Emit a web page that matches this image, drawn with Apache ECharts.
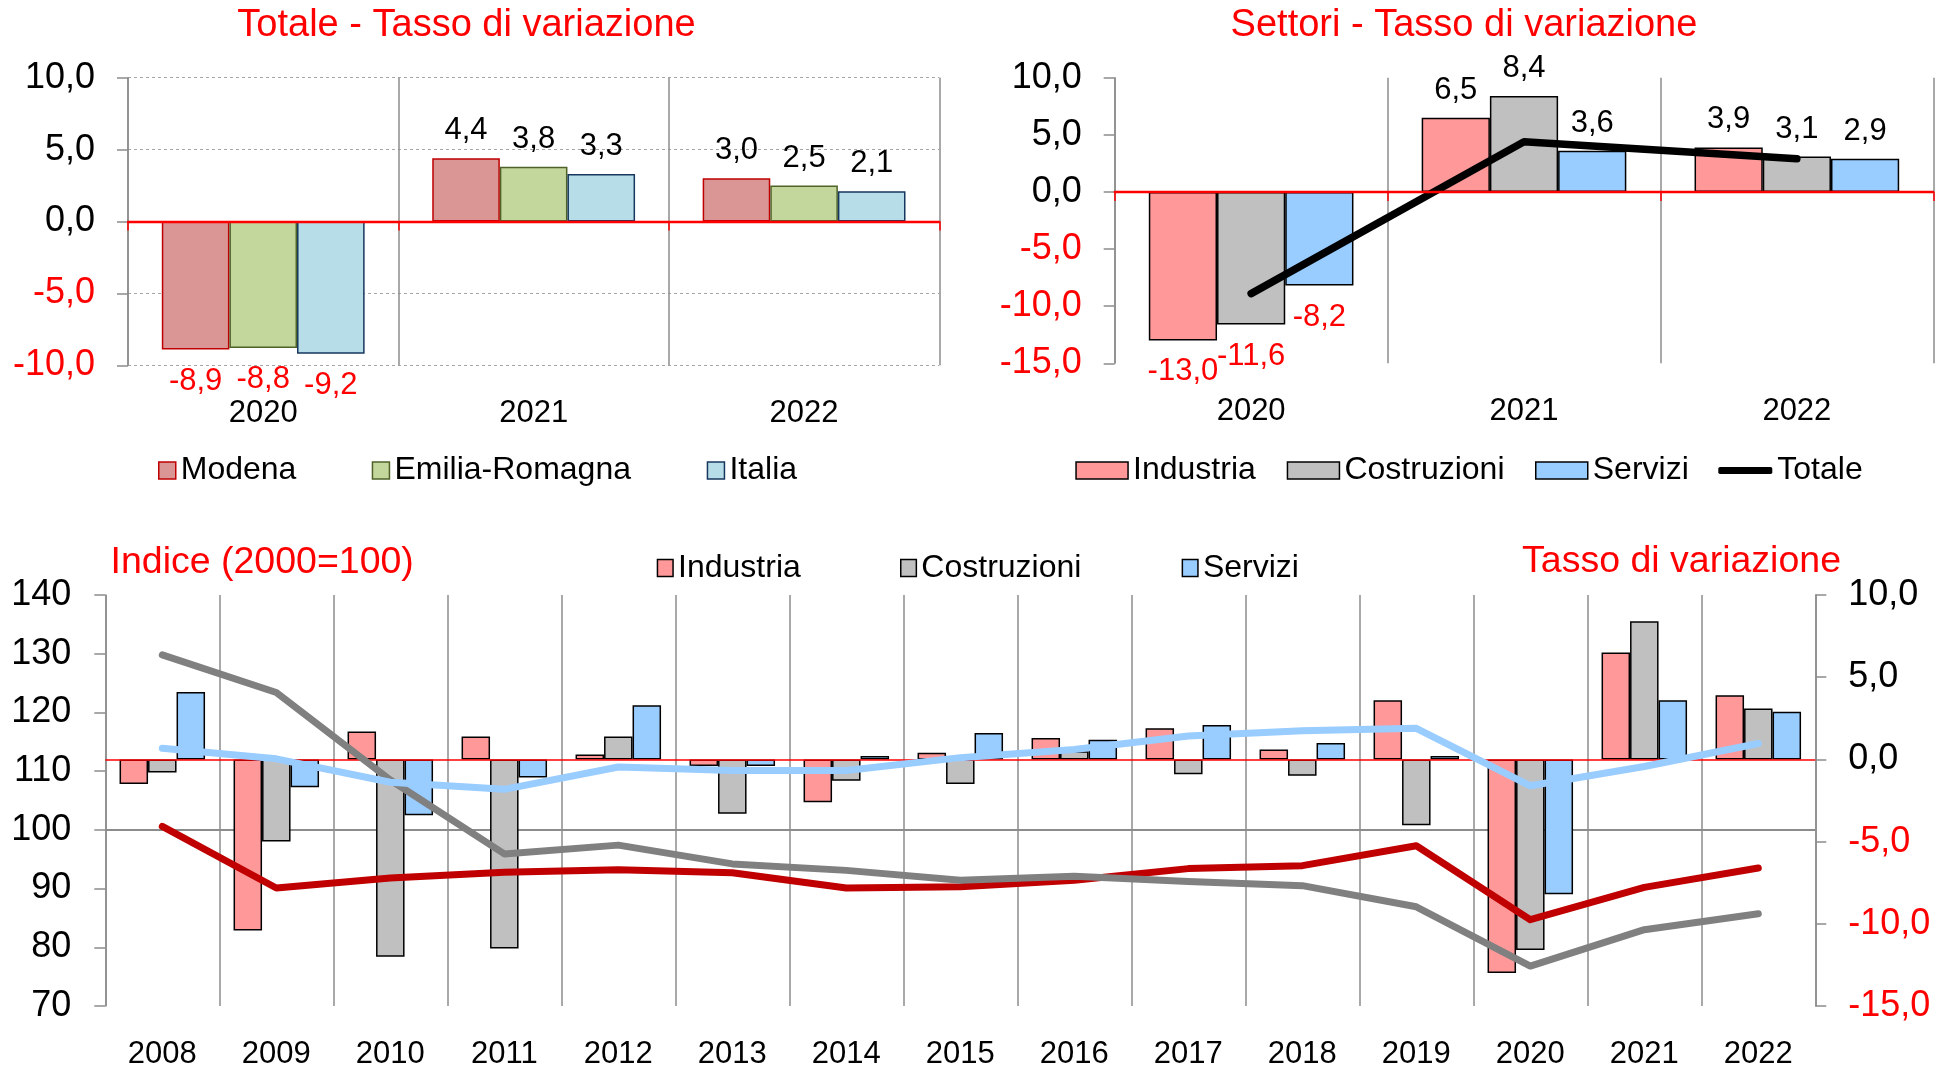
<!DOCTYPE html>
<html>
<head>
<meta charset="utf-8">
<script src="https://cdn.jsdelivr.net/npm/echarts@6/dist/echarts.min.js"></script>
<style>
  html, body { margin: 0; padding: 0; background: #fff; }
  #chart { width: 1946px; height: 1070px; }
</style>
</head>
<body>
<div id="chart"></div>
<script>
const FONT = '"Liberation Sans", Arial, sans-serif';
const RED = '#ff0000';
const GRID_GRAY = '#8c8c8c';

// top left: totale, tasso di variazione
const yearsTop = ['2020', '2021', '2022'];
const modena = [-8.9, 4.4, 3.0];
const emiliaRomagna = [-8.8, 3.8, 2.5];
const italia = [-9.2, 3.3, 2.1];

// top right: settori, tasso di variazione
const settIndustria = [-13.0, 6.5, 3.9];
const settCostruzioni = [-11.6, 8.4, 3.1];
const settServizi = [-8.2, 3.6, 2.9];
const settTotale = [-8.9, 4.4, 2.9];

// bottom: serie storica
const years = ['2008', '2009', '2010', '2011', '2012', '2013', '2014', '2015',
  '2016', '2017', '2018', '2019', '2020', '2021', '2022'];
const varIndustria = [-1.5, -10.4, 1.7, 1.4, 0.3, -0.4, -2.6, 0.4, 1.3, 1.9, 0.6, 3.6, -13.0, 6.5, 3.9];
const varCostruzioni = [-0.8, -5.0, -12.0, -11.5, 1.4, -3.3, -1.3, -1.5, 0.5, -0.9, -1.0, -4.0, -11.6, 8.4, 3.1];
const varServizi = [4.1, -1.7, -3.4, -1.1, 3.3, -0.4, 0.2, 1.6, 1.2, 2.1, 1.0, 0.2, -8.2, 3.6, 2.9];
const idxIndustria = [100.6, 90.1, 91.8, 92.8, 93.2, 92.7, 90.1, 90.3, 91.4, 93.4, 93.9, 97.3, 84.7, 90.2, 93.5];
const idxCostruzioni = [129.8, 123.4, 108.5, 95.9, 97.4, 94.2, 93.1, 91.4, 92.1, 91.2, 90.5, 86.9, 76.8, 83.0, 85.7];
const idxServizi = [113.9, 112.1, 108.1, 106.9, 110.7, 110.1, 110.1, 112.3, 113.7, 116.0, 116.9, 117.3, 107.5, 110.8, 114.7];

const fmt = v => Number(v).toFixed(1).replace('.', ',');
const signColor = v => Number(v) < 0 ? RED : '#000';

function labelled(values) {
  return values.map(v => ({
    value: v,
    label: { position: v < 0 ? 'bottom' : 'top', distance: v < 0 ? 16 : 12, color: signColor(v) }
  }));
}

function topBar(name, values, color, border, xIdx, yIdx) {
  return {
    name, type: 'bar', xAxisIndex: xIdx, yAxisIndex: yIdx,
    data: labelled(values),
    barGap: '0%', barCategoryGap: '25%',
    itemStyle: { color, borderColor: border, borderWidth: 1.5 },
    label: { show: true, fontSize: 31, fontFamily: FONT, formatter: p => fmt(p.value) }
  };
}

function bottomBar(name, values, color) {
  return {
    name, type: 'bar', xAxisIndex: 4, yAxisIndex: 3, data: values,
    barGap: '0%', barCategoryGap: '25%',
    itemStyle: { color, borderColor: '#000', borderWidth: 1.5 }
  };
}

function indexLine(name, values, color) {
  return {
    name, type: 'line', xAxisIndex: 4, yAxisIndex: 2, data: values,
    symbol: 'none', z: 4,
    lineStyle: { color, width: 7, cap: 'round', join: 'round' }
  };
}

function labelAxis(gridIndex, data) {
  return {
    gridIndex, type: 'category', data, position: 'bottom',
    axisLine: { show: false, onZero: false }, axisTick: { show: false },
    axisLabel: { fontSize: 31, fontFamily: FONT, color: '#000', margin: 33, interval: 0 },
    splitLine: { show: true, lineStyle: { color: GRID_GRAY, width: 1.5 } }
  };
}

function zeroAxis(gridIndex, data) {
  return {
    gridIndex, type: 'category', data, position: 'bottom', z: 10,
    axisLine: { show: true, onZero: true, lineStyle: { color: RED, width: 2.3 } },
    axisTick: { show: true, length: 9, lineStyle: { color: RED, width: 1.5 } },
    axisLabel: { show: false }, splitLine: { show: false }
  };
}

function valueAxis(gridIndex, min, max, interval, extra) {
  return Object.assign({
    gridIndex, type: 'value', min, max, interval,
    axisLine: { show: true, lineStyle: { color: GRID_GRAY, width: 1.5 } },
    axisTick: { show: true, length: 11, lineStyle: { color: GRID_GRAY, width: 1.5 } },
    axisLabel: { fontSize: 36, fontFamily: FONT, margin: 33, formatter: fmt, color: signColor },
    splitLine: { show: false }
  }, extra);
}

function legendAt(name, left, top, w, h, style, icon) {
  return {
    data: [{ name, icon: icon || 'rect', itemStyle: style }],
    left, top, itemWidth: w, itemHeight: h, padding: 0, selectedMode: false,
    textStyle: { fontSize: 32, fontFamily: FONT, color: '#000', lineHeight: 32 }
  };
}

function titleText(text, x, y, align, size) {
  return {
    type: 'text', x, y, silent: true,
    style: { text, fill: RED, fontSize: size, fontFamily: FONT, align, verticalAlign: 'middle' }
  };
}

const chart = echarts.init(document.getElementById('chart'));
chart.setOption({
  animation: false,
  backgroundColor: '#fff',
  textStyle: { fontFamily: FONT },
  grid: [
    { left: 128, top: 77.7, width: 811.3, height: 287.6 },
    { left: 1114.7, top: 77.7, width: 818.6, height: 285.6 },
    { left: 105.3, top: 595, width: 1710, height: 412.7 }
  ],
  xAxis: [
    labelAxis(0, yearsTop),
    zeroAxis(0, yearsTop),
    labelAxis(1, yearsTop),
    zeroAxis(1, yearsTop),
    labelAxis(2, years)
  ],
  yAxis: [
    valueAxis(0, -10, 10, 5, {
      splitLine: { show: true, lineStyle: { color: '#a6a6a6', width: 1, type: [3, 3] } }
    }),
    valueAxis(1, -15, 10, 5),
    valueAxis(2, 70, 140, 10, {
      position: 'left',
      axisLabel: { fontSize: 36, fontFamily: FONT, margin: 34, color: '#000' }
    }),
    valueAxis(2, -15, 10, 5, { position: 'right' })
  ],
  legend: [
    legendAt('Modena', 158, 454.5, 17, 17, { color: '#d99694', borderColor: '#c00000', borderWidth: 1.5 }),
    legendAt('Emilia-Romagna', 371.7, 454.5, 17, 17, { color: '#c3d69b', borderColor: '#4f6228', borderWidth: 1.5 }),
    legendAt('Italia', 706.7, 454.5, 17, 17, { color: '#b7dee8', borderColor: '#17375e', borderWidth: 1.5 }),
    legendAt('Industria', 1075.3, 454.5, 52, 17, { color: '#ff9999', borderColor: '#000', borderWidth: 1.5 }),
    legendAt('Costruzioni', 1286.7, 454.5, 52, 17, { color: '#c0c0c0', borderColor: '#000', borderWidth: 1.5 }),
    legendAt('Servizi', 1535, 454.5, 52, 17, { color: '#99ccff', borderColor: '#000', borderWidth: 1.5 }),
    legendAt('Totale', 1718.3, 454.5, 54, 7, { color: '#000', borderWidth: 0 }, 'roundRect'),
    legendAt('Industria', 656.7, 552, 15.6, 17, { color: '#ff9999', borderColor: '#000', borderWidth: 1.5 }),
    legendAt('Costruzioni', 900, 552, 15.6, 17, { color: '#c0c0c0', borderColor: '#000', borderWidth: 1.5 }),
    legendAt('Servizi', 1181.6, 552, 15.6, 17, { color: '#99ccff', borderColor: '#000', borderWidth: 1.5 })
  ],
  graphic: [
    titleText('Totale - Tasso di variazione', 466.5, 25.5, 'center', 38),
    titleText('Settori - Tasso di variazione', 1464, 25.8, 'center', 38),
    titleText('Indice (2000=100)', 110.5, 562.7, 'left', 37.5),
    titleText('Tasso di variazione', 1841, 562, 'right', 37.5)
  ],
  series: [
    topBar('Modena', modena, '#d99694', '#c00000', 0, 0),
    topBar('Emilia-Romagna', emiliaRomagna, '#c3d69b', '#4f6228', 0, 0),
    topBar('Italia', italia, '#b7dee8', '#17375e', 0, 0),
    topBar('Industria', settIndustria, '#ff9999', '#000', 2, 1),
    topBar('Costruzioni', settCostruzioni, '#c0c0c0', '#000', 2, 1),
    topBar('Servizi', settServizi, '#99ccff', '#000', 2, 1),
    {
      name: 'Totale', type: 'line', xAxisIndex: 2, yAxisIndex: 1, data: settTotale,
      symbol: 'none', z: 5, itemStyle: { color: '#000' },
      lineStyle: { color: '#000', width: 7.5, cap: 'round', join: 'round' }
    },
    Object.assign(bottomBar('Industria', varIndustria, '#ff9999'), {
      markLine: {
        silent: true, symbol: 'none', z: 3, label: { show: false },
        lineStyle: { color: RED, width: 1.5, type: 'solid' },
        data: [{ yAxis: 0 }]
      }
    }),
    bottomBar('Costruzioni', varCostruzioni, '#c0c0c0'),
    bottomBar('Servizi', varServizi, '#99ccff'),
    Object.assign(indexLine('Indice industria', idxIndustria, '#c00000'), {
      markLine: {
        silent: true, symbol: 'none', z: 1, label: { show: false },
        lineStyle: { color: GRID_GRAY, width: 2, type: 'solid' },
        data: [{ yAxis: 100 }]
      }
    }),
    indexLine('Indice costruzioni', idxCostruzioni, '#808080'),
    indexLine('Indice servizi', idxServizi, '#99ccff')
  ]
});
</script>
</body>
</html>
